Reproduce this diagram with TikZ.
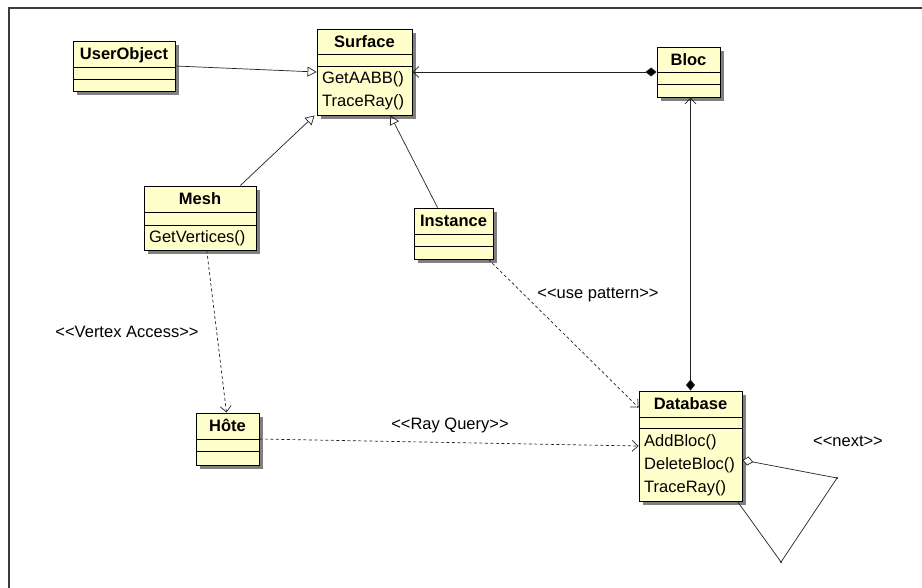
\documentclass[tikz,border=0pt]{standalone}
\usepackage{fontspec}
\setmainfont{Liberation Sans}
\usetikzlibrary{arrows.meta,calc,fit}
\definecolor{classfill}{RGB}{255,255,204}
\definecolor{shadowc}{RGB}{128,128,128}
\definecolor{linec}{RGB}{35,35,35}
\definecolor{framec}{RGB}{60,60,60}
\tikzset{
  classbox/.style={draw=black, line width=0.9pt, fill=classfill, inner sep=0pt},
  sepline/.style={draw=black, line width=0.9pt},
  titletext/.style={font=\bfseries\fontsize{16.5}{20}\selectfont, anchor=base, inner sep=0pt},
  methtext/.style={font=\fontsize{16.5}{20}\selectfont, anchor=base west, inner sep=0pt},
  lbltext/.style={font=\fontsize{16.5}{20}\selectfont, inner sep=0pt},
  gen/.style={draw=linec, line width=0.7pt, -{Triangle[open, length=9pt, width=10pt]}},
  comp/.style={draw=linec, line width=0.7pt, {Diamond[length=11pt, width=9pt, fill=black]}-{Straight Barb[length=6pt, width=11pt]}},
  dep/.style={draw=linec, line width=0.7pt, dash pattern=on 3pt off 2.5pt, -{Straight Barb[length=6pt, width=11pt]}},
  agg/.style={draw=linec, line width=0.7pt, {Diamond[open, length=11pt, width=9pt, fill=white]}-},
}
% name, left, top, right, bottom, sep1, sep2, title
\newcommand{\umlclass}[8]{%
  \fill[shadowc] (#2+4,#3+4) rectangle (#4+4,#5+4);
  \node[classbox, fit={(#2,#3) (#4,#5)}] (#1) {};
  \draw[sepline] (#2,#6) -- (#4,#6);
  \draw[sepline] (#2,#7) -- (#4,#7);
  \node[titletext] (#1-title) at ({(#2+#4)/2},{#3+18.5}) {#8};
}
\newcommand{\lt}{<{}}
\newcommand{\gt}{>{}}
\begin{document}
\begin{tikzpicture}[x=1pt,y=-1pt]
\useasboundingbox (0,0) rectangle (922,588);
\fill[white] (0,0) rectangle (922,588);
\draw[framec, line width=1.5pt] (922,8) -- (9,8) -- (9,588);

\umlclass{UserObject}{73}{41}{175}{91}{67}{79}{UserObject}
\umlclass{Surface}{317}{29}{412}{115}{54}{66}{Surface}
\node[methtext] (Surface-m1) at (322,84) {GetAABB()};
\node[methtext] (Surface-m2) at (322,107) {TraceRay()};
\umlclass{Bloc}{657}{47}{720}{97}{72}{84}{Bloc}
\umlclass{Mesh}{144}{186}{256}{250}{212}{225}{Mesh}
\node[methtext] (Mesh-m1) at (149,243) {GetVertices()};
\umlclass{Instance}{414}{208}{493}{259}{234}{246}{Instance}
\umlclass{Hote}{196}{413}{259}{465}{439}{451}{Hôte}
\umlclass{Database}{639}{391}{742}{501}{417}{428}{Database}
\node[methtext] (Database-m1) at (644,446) {AddBloc()};
\node[methtext] (Database-m2) at (644,469) {DeleteBloc()};
\node[methtext] (Database-m3) at (644,492) {TraceRay()};

% connectors
\draw[gen] (UserObject.east) -- (Surface.west);
\draw[comp] (Bloc.west) -- (Surface.east);
\draw[comp] (Database.north) -- (Database.north |- Bloc.south);
\draw[gen] ($(Mesh.north west)!0.857!(Mesh.north east)$) -- ([xshift=-2pt]Surface.south west);
\draw[gen] ($(Instance.north west)!0.3!(Instance.north east)$) -- ($(Surface.south west)!0.77!(Surface.south east)$);
\draw[dep] ($(Mesh.south west)!0.56!(Mesh.south east)$) -- ([xshift=-1pt]Hote.north);
\draw[dep] ([xshift=-5pt]Instance.south east) -- ([yshift=-17pt]Database.north west);
\draw[dep] (Hote.east) -- (Database.west);

\coordinate (n1) at (837,478);
\coordinate (n2) at (781,562);
\draw[agg] ([yshift=-14pt]Database.east) -- (n1) -- (n2) -- ([xshift=-5pt]Database.south east);
\fill[linec] (n1) circle (1.2pt);
\fill[linec] (n2) circle (1.2pt);

% labels
\node[lbltext] (lblUse) at (598,295) {\lt\lt use pattern\gt\gt};
\node[lbltext] (lblVertex) at (127,332) {\lt\lt Vertex Access\gt\gt};
\node[lbltext] (lblRay) at (450,425) {\lt\lt Ray Query\gt\gt};
\node[lbltext] (lblNext) at (848,441) {\lt\lt next\gt\gt};
\end{tikzpicture}
\end{document}
